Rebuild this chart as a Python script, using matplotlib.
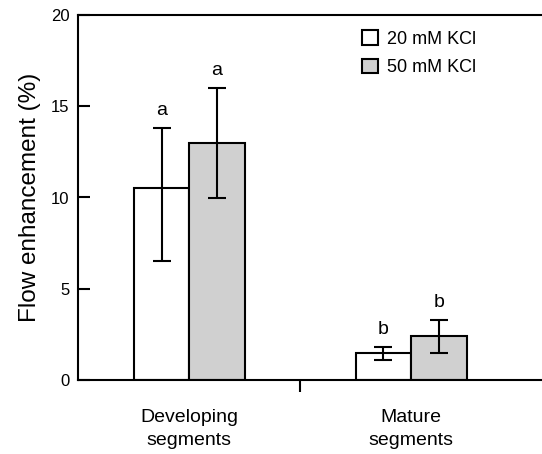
import matplotlib.pyplot as plt
from matplotlib.patches import Patch
from matplotlib.transforms import blended_transform_factory

plt.rcParams['font.family'] = ['Liberation Sans', 'DejaVu Sans']

groups = ["Developing\nsegments", "Mature\nsegments"]
series = ["20 mM KCl", "50 mM KCl"]
kcl20 = [10.5, 1.5]
kcl50 = [13.0, 2.4]
err20_lo = [6.5, 1.1]
err20_hi = [13.8, 1.8]
err50_lo = [9.95, 1.5]
err50_hi = [16.0, 3.3]
letters20 = ["a", "b"]
letters50 = ["a", "b"]

colors = ["white", "#d0d0d0"]
width = 0.25

fig = plt.figure(figsize=(5.42, 4.54), dpi=100)
ax = fig.add_axes([78 / 542, 74 / 454, 1 - 78 / 542, (380 - 15) / 454])

x = [0, 1]
for vals, lo, hi, lets, col, off in [(kcl20, err20_lo, err20_hi, letters20, colors[0], -width / 2),
                                       (kcl50, err50_lo, err50_hi, letters50, colors[1], width / 2)]:
    xs = [xi + off for xi in x]
    ax.bar(xs, vals, width=width, color=col, edgecolor="black", linewidth=1.5, zorder=2)
    yerr = [[v - l for v, l in zip(vals, lo)], [h - v for v, h in zip(vals, hi)]]
    ax.errorbar(xs, vals, yerr=yerr, fmt="none", ecolor="black", elinewidth=1.5,
                capsize=6.5, capthick=1.5, zorder=3)
    for xi, h, t in zip(xs, hi, lets):
        ax.text(xi, h + 0.5, t, ha="center", va="bottom", fontsize=14)

ax.set_xlim(-0.502, 1.59)
ax.set_ylim(0, 20)
ax.set_yticks([0, 5, 10, 15, 20])
ax.tick_params(axis="y", direction="in", length=8.5, width=1.5, labelsize=12, pad=6)
ax.set_xticks([0.5])
ax.set_xticklabels([""])
ax.tick_params(axis="x", direction="out", length=8.5, width=1.5)
for s in ["left", "bottom", "top"]:
    ax.spines[s].set_linewidth(1.5)
ax.spines["right"].set_visible(False)

trans = blended_transform_factory(ax.transData, ax.transAxes)
for xi, g in zip(x, groups):
    ax.text(xi, -0.08, g, transform=trans, ha="center", va="top", fontsize=14,
            linespacing=1.45)

ax.set_ylabel("Flow enhancement (%)", fontsize=17.5, labelpad=7)

handles = [Patch(facecolor=c, edgecolor="black", linewidth=1.5) for c in colors]
ax.legend(handles, series, loc="upper left", bbox_to_anchor=(346 / 542, 1 - 14 / 454),
          bbox_transform=fig.transFigure, frameon=False, fontsize=13,
          handlelength=0.85, handleheight=0.85, handletextpad=0.5, labelspacing=0.6)

fig.savefig("out.png", dpi=100)
